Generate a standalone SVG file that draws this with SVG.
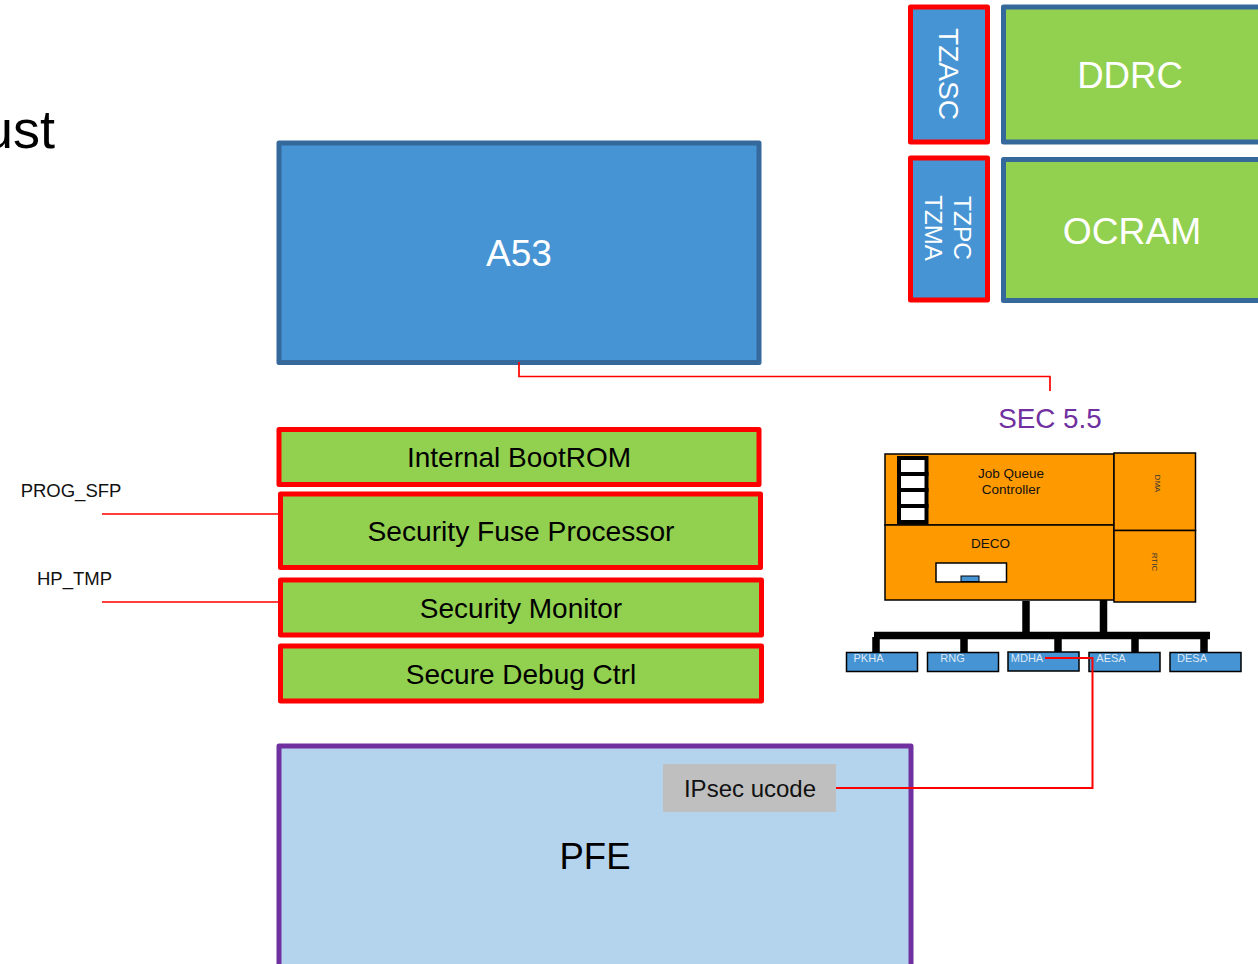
<svg xmlns="http://www.w3.org/2000/svg" width="1258" height="964" viewBox="0 0 1258 964">
<style>
text{font-family:"Liberation Sans",Arial,sans-serif;text-anchor:middle}
.w{fill:#fff}.k{fill:#000}
.red{fill:#92d050;stroke:#f00;stroke-width:5;stroke-linejoin:round}
.blu{fill:#92d050;stroke:#35699c;stroke-width:5;stroke-linejoin:round}
.or{fill:#ff9900;stroke:#000;stroke-width:1.5}
.ha{fill:#4694d4;stroke:#000;stroke-width:1.5}
.bus{stroke:#000;fill:none}
.c{stroke:#f00;stroke-width:1.7;fill:none}
.s{font-size:11px;fill:#dfe9f5}
</style>
<rect width="1258" height="964" fill="#fff"/>
<g id="title"><text x="55" y="148" font-size="54" class="k" style="text-anchor:end">ust</text></g>
<g id="tzasc"><rect x="910.500" y="7" width="77" height="135" fill="#4694d4" stroke="#f00" stroke-width="5" stroke-linejoin="round"/><text transform="translate(948,74) rotate(90)" font-size="28" class="w" dominant-baseline="central">TZASC</text></g>
<g id="ddrc"><rect x="1003.500" y="7" width="262" height="135" class="blu"/><text x="1130" y="88" font-size="36.600" class="w">DDRC</text></g>
<g id="tzpc"><rect x="910.500" y="158" width="77" height="142" fill="#4694d4" stroke="#f00" stroke-width="5" stroke-linejoin="round"/><text transform="translate(962,228) rotate(90)" font-size="24.500" class="w" dominant-baseline="central">TZPC</text><text transform="translate(933,228) rotate(90)" font-size="24" class="w" dominant-baseline="central">TZMA</text></g>
<g id="ocram"><rect x="1003.500" y="159.500" width="262" height="141" class="blu"/><text x="1132" y="244" font-size="37.200" class="w">OCRAM</text></g>
<g id="a53"><rect x="279" y="143" width="480" height="219.500" fill="#4694d4" stroke="#35699c" stroke-width="5" stroke-linejoin="round"/><text x="519" y="266" font-size="37" class="w">A53</text></g>
<g id="sec-label"><text x="1050" y="428" font-size="27.800" fill="#7030a0">SEC 5.5</text></g>
<g id="bootrom"><rect x="279" y="429.500" width="480" height="55" class="red"/><text x="519" y="467" font-size="28" class="k">Internal BootROM</text></g>
<g id="sfp"><rect x="280.500" y="494" width="480" height="73.500" class="red"/><text x="521" y="541" font-size="28.200" class="k">Security Fuse Processor</text></g>
<g id="monitor"><rect x="280.500" y="580" width="481" height="55" class="red"/><text x="521" y="618" font-size="28" class="k">Security Monitor</text></g>
<g id="debug"><rect x="280.500" y="646" width="481" height="55" class="red"/><text x="521" y="684" font-size="28" class="k">Secure Debug Ctrl</text></g>
<g id="prog-label"><text x="71" y="497" font-size="18.500" fill="#111">PROG_SFP</text></g>
<g id="hp-label"><text x="74.500" y="585" font-size="18.500" fill="#111">HP_TMP</text></g>
<g id="pfe"><rect x="279" y="746" width="632" height="225" fill="#b4d4ee" stroke="#7030a0" stroke-width="5" stroke-linejoin="round"/><text x="595" y="869" font-size="36.500" class="k">PFE</text></g>
<g id="ipsec"><rect x="663" y="764" width="173" height="48" fill="#bfbfbf"/><text x="750" y="797" font-size="24" fill="#111">IPsec ucode</text></g>
<g id="jqc"><rect x="885" y="454" width="229" height="71" class="or"/>
<g fill="#fff" stroke="#000" stroke-width="4"><rect x="899" y="458" width="27.500" height="16"/><rect x="899" y="474" width="27.500" height="16"/><rect x="899" y="490" width="27.500" height="16"/><rect x="899" y="506" width="27.500" height="16"/></g>
<text x="1011" y="478" font-size="13.500" fill="#111">Job Queue</text><text x="1011" y="494" font-size="13.500" fill="#111">Controller</text></g>
<g id="deco"><rect x="885" y="525" width="229" height="75" class="or"/><text x="990.500" y="548" font-size="13.500" fill="#111">DECO</text><rect x="936" y="563" width="70.500" height="19" fill="#fff" stroke="#000" stroke-width="1.500"/><rect x="961" y="576" width="18" height="5.500" fill="#4694d4" stroke="#000" stroke-width="1"/></g>
<g id="dma"><rect x="1114" y="453" width="81.500" height="77.500" class="or"/><text transform="translate(1157,483.500) rotate(90)" font-size="8" fill="#333" dominant-baseline="central">DMA</text></g>
<g id="rtic"><rect x="1114" y="530.500" width="81.500" height="71.500" class="or"/><text transform="translate(1154,562) rotate(90)" font-size="8" fill="#333" dominant-baseline="central">RTIC</text></g>
<g id="pkha"><rect x="846.500" y="652.500" width="71" height="19" class="ha"/><text x="868.500" y="662" class="s">PKHA</text></g>
<g id="rng"><rect x="927.500" y="652.500" width="71" height="19" class="ha"/><text x="952.500" y="662" class="s">RNG</text></g>
<g id="mdha"><rect x="1008" y="652" width="71" height="19" class="ha"/><text x="1027" y="662" class="s">MDHA</text></g>
<g id="aesa"><rect x="1089" y="652.500" width="71" height="19" class="ha"/><text x="1111" y="662" class="s">AESA</text></g>
<g id="desa"><rect x="1170" y="652.500" width="71" height="19" class="ha"/><text x="1192" y="662" class="s">DESA</text></g>
<g id="connectors">
<path class="c" d="M519 362V376.500H1050V391"/>
<path class="c" d="M102 514H279M102 602H279"/>
<path class="c" style="stroke-width:2" d="M836 788H1092.500V658H1045"/>
<path class="bus" stroke-width="7.500" d="M1026 601V632M1103.500 600V632"/>
<path class="bus" stroke-width="7.500" d="M874 635.500H1210"/>
<path class="bus" stroke-width="7.500" d="M876 637V653M964 637V652M1058 637V652M1135 637V652M1204 637V653"/>
</g>
</svg>
